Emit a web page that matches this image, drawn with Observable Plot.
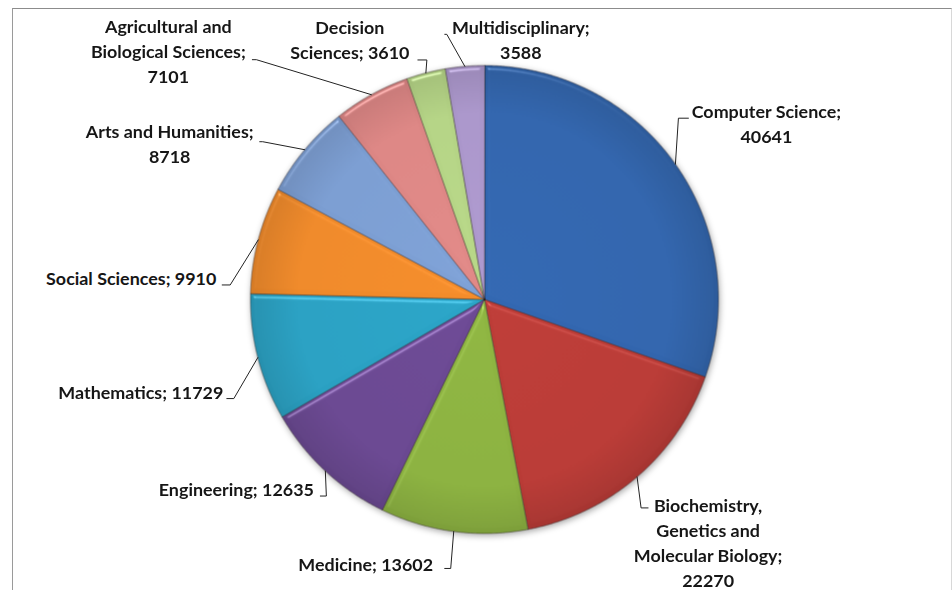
<!DOCTYPE html>
<html>
<head>
<meta charset="utf-8">
<script src="https://cdn.jsdelivr.net/npm/d3@7"></script>
<script src="https://cdn.jsdelivr.net/npm/@observablehq/plot@0.6"></script>
<style>
  html, body { margin: 0; padding: 0; background: #fff; overflow: hidden; }
  #wrap { position: relative; width: 952px; height: 590px; }
  #frame { position: absolute; left: 12px; top: 8px; width: 938px; height: 600px;
           border-left: 1px solid #9a9a9a; border-top: 1px solid #8c8c8c; border-right: 1px solid #d8d8d8;
           pointer-events: none; }
</style>
</head>
<body>
<div id="wrap"><div id="chart"></div><div id="frame"></div></div>
<script>
// ---- data ----
const categories = [
  "Computer Science",
  "Biochemistry, Genetics and Molecular Biology",
  "Medicine",
  "Engineering",
  "Mathematics",
  "Social Sciences",
  "Arts and Humanities",
  "Agricultural and Biological Sciences",
  "Decision Sciences",
  "Multidisciplinary"
];
const values = [40641, 22270, 13602, 12635, 11729, 9910, 8718, 7101, 3610, 3588];

// ---- styles ----
const colors = ["#3265ad", "#b93b36", "#8bb140", "#6a4891", "#2aa0c2",
                "#ee892a", "#7b9dd1", "#dc8684", "#b4d385", "#aa96ca"];
// word counts after which a label wraps onto a new line
const labelBreaks = [[2], [1, 3, 5], [], [], [], [], [3], [2, 4], [1], [1]];
// label layout: offsets in px from the slice's outer mid-point
const labelLayout = [
  {text: [91, -52],  elbow: [3, -46],    tail: [13, -46]},
  {text: [71, 29],   elbow: [4, 31],     tail: [11, 31]},
  {text: [-88, 34],  elbow: [-3, 37],    tail: [-9, 37]},
  {text: [-89, 19],  elbow: [1, 25],     tail: [-5, 25]},
  {text: [-117, 36], elbow: [-24, 41],   tail: [-31, 41]},
  {text: [-127, 39], elbow: [-28, 45],   tail: [-36, 45]},
  {text: [-135, -17],elbow: [-42, -8],   tail: [-45, -8]},
  {text: [-203, -67],elbow: [-115, -35], tail: [-119, -35]},
  {text: [-76, -45], elbow: [1, -13],    tail: [-8, -13]},
  {text: [56, -38],  elbow: [-18, -32],  tail: [-20, -32]}
];
const W = 952, H = 590, CX = 484, CY = 299, R = 234, LINE = 25;

// ---- geometry (unit radius) ----
const arcs = d3.pie().sort(null).value(d => d)(values);
const pt = (a, r = 1) => [Math.sin(a) * r, -Math.cos(a) * r];

const slicePts = [];
arcs.forEach((a, i) => {
  slicePts.push({i, x: 0, y: 0, fill: `url(#sg${i})`});
  const n = Math.max(2, Math.ceil((a.endAngle - a.startAngle) / 0.004));
  for (let k = 0; k <= n; k++) {
    const t = a.startAngle + (a.endAngle - a.startAngle) * k / n;
    const [x, y] = pt(t);
    slicePts.push({i, x, y, fill: `url(#sg${i})`});
  }
});

const leaderPts = [];
const textRows = [];
arcs.forEach((a, i) => {
  const mid = (a.startAngle + a.endAngle) / 2;
  const [ex, ey] = pt(mid);
  const L = labelLayout[i];
  leaderPts.push({i, x: ex, y: ey});
  leaderPts.push({i, x: ex + L.elbow[0] / R, y: ey + L.elbow[1] / R});
  leaderPts.push({i, x: ex + L.tail[0] / R, y: ey + L.tail[1] / R});
  const words = `${categories[i]}; ${values[i]}`.split(" ");
  const lines = [];
  let start = 0;
  for (const b of [...labelBreaks[i], words.length]) {
    lines.push(words.slice(start, b).join(" "));
    start = b;
  }
  lines.forEach((s, k) => textRows.push({
    x: ex + L.text[0] / R,
    y: ey + (L.text[1] + k * LINE) / R,
    text: s
  }));
});

const chart = Plot.plot({
  width: W,
  height: H,
  margin: 0,
  x: {domain: [-CX / R, (W - CX) / R], range: [0, W], axis: null},
  y: {domain: [-CY / R, (H - CY) / R], range: [0, H], axis: null},
  color: {type: "identity"},
  marks: [
    Plot.line(slicePts, {x: "x", y: "y", z: "i", fill: "fill", stroke: "rgba(30,20,20,0.5)",
                         strokeWidth: 0.8, curve: "linear-closed"}),
    Plot.line(leaderPts, {x: "x", y: "y", z: "i", stroke: "#222", strokeWidth: 1}),
    Plot.text(textRows, {x: "x", y: "y", text: "text", fontFamily: "Lato", fontWeight: "bold",
                         fontSize: 17.9, fill: "#161616", textAnchor: "middle"})
  ]
});

// gradients + bevel filter for the Excel-like look
const svg = d3.select(chart);
const defs = svg.insert("defs", ":first-child");
colors.forEach((c, i) => {
  const g = defs.append("radialGradient").attr("id", `sg${i}`)
    .attr("gradientUnits", "userSpaceOnUse").attr("cx", CX).attr("cy", CY).attr("r", R);
  g.append("stop").attr("offset", "0").attr("stop-color", d3.color(c).brighter(0.08));
  g.append("stop").attr("offset", "0.8").attr("stop-color", c);
  g.append("stop").attr("offset", "1").attr("stop-color", d3.color(c).darker(0.3));
});
defs.html(defs.html() + `
  <filter id="bevel" x="-5%" y="-5%" width="110%" height="110%" color-interpolation-filters="sRGB">
    <feGaussianBlur in="SourceAlpha" stdDeviation="2" result="blur"/>
    <feSpecularLighting in="blur" surfaceScale="4" specularConstant="0.7" specularExponent="35" lighting-color="#ffffff" result="spec">
      <feDistantLight azimuth="250" elevation="40"/>
    </feSpecularLighting>
    <feComposite in="spec" in2="SourceAlpha" operator="in" result="specIn"/>
    <feComposite in="SourceGraphic" in2="specIn" operator="arithmetic" k1="0" k2="1" k3="0.4" k4="0"/>
  </filter>`);
const pieGroup = svg.selectAll('g[aria-label="line"]').filter((d, k) => k === 0);
pieGroup.style("filter", "drop-shadow(1px 2px 3px rgba(0,0,0,0.35))");
pieGroup.selectAll("path").attr("filter", "url(#bevel)");

document.getElementById("chart").appendChild(chart);
</script>
</body>
</html>
